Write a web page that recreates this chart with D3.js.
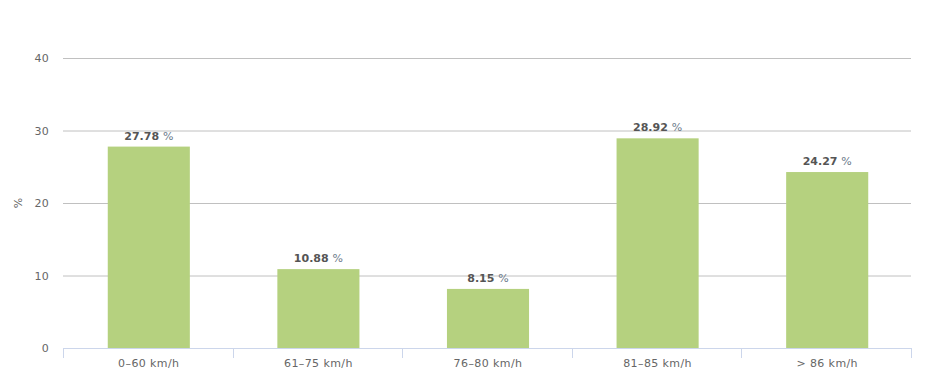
<!DOCTYPE html>
<html><head><meta charset="utf-8">
<script src="https://cdn.jsdelivr.net/npm/d3@7"></script>
<style>body{margin:0;background:#fff}svg{display:block;font-family:"DejaVu Sans",Verdana,sans-serif}</style>
</head><body><svg id="c" width="933" height="388"></svg>
<script>
const categories = ["0–60 km/h","61–75 km/h","76–80 km/h","81–85 km/h","> 86 km/h"];
const values = [27.78, 10.88, 8.15, 28.92, 24.27];
const yTicks = [0,10,20,30,40];
const yTitle = "%";

const svg = d3.select("#c");
const m = {l:63, r:911, t:58, b:348};
const x = d3.scaleBand().domain(categories).range([m.l+1, m.r+1]).paddingInner(0.516).paddingOuter(0.258);
const y = d3.scaleLinear().domain([0,40]).range([m.b, m.t]);

// grid
svg.append("g").selectAll("line").data(yTicks.filter(d=>d>0)).join("line")
  .attr("x1", m.l).attr("x2", m.r).attr("y1", d=>y(d)+0.5).attr("y2", d=>y(d)+0.5)
  .attr("stroke", "#c0c0c0").attr("stroke-width", 1);

// y labels
const ya = d3.axisLeft(y).tickValues(yTicks).tickSize(0).tickPadding(14);
const gy = svg.append("g").attr("transform", `translate(${m.l},0)`).call(ya);
gy.select(".domain").remove();
gy.selectAll("text").attr("fill", "#666").attr("font-size", 11).attr("letter-spacing", 0.3).attr("font-family","DejaVu Sans, Verdana, sans-serif");

// y title
svg.append("text").attr("transform", `translate(22,${(m.t+m.b)/2}) rotate(-90)`)
  .attr("text-anchor","middle").attr("fill","#666").attr("font-size",11).text(yTitle);

// bars
svg.append("g").selectAll("rect").data(values).join("rect")
  .attr("x", (d,i)=>x(categories[i])).attr("width", x.bandwidth())
  .attr("y", d=>y(d)).attr("height", d=>y(0)-y(d)).attr("fill", "#b5d17f");

// x axis
svg.append("line").attr("x1", m.l).attr("x2", m.r).attr("y1", m.b+0.5).attr("y2", m.b+0.5).attr("stroke","#ccd6eb");
const bounds = d3.range(categories.length+1).map(i => m.l + i*(m.r-m.l)/categories.length);
svg.append("g").selectAll("line").data(bounds).join("line")
  .attr("x1", d=>Math.round(d)+0.5).attr("x2", d=>Math.round(d)+0.5).attr("y1", m.b).attr("y2", m.b+10).attr("stroke","#ccd6eb");
svg.append("g").selectAll("text").data(categories).join("text")
  .attr("x", d=>x(d)+x.bandwidth()/2).attr("y", 367).attr("text-anchor","middle")
  .attr("letter-spacing", 0.4)
  .attr("fill","#666").attr("font-size",11).text(d=>d);

// data labels
const lab = svg.append("g").selectAll("text").data(values).join("text")
  .attr("x", (d,i)=>x(categories[i])+x.bandwidth()/2).attr("y", d=>y(d)-7)
  .attr("text-anchor","middle").attr("font-size",11);
lab.append("tspan").attr("font-weight","bold").attr("fill","#555").text(d=>d.toFixed(2) + " ");
lab.append("tspan").attr("fill","#6b7a8a").text("%");
</script></body></html>
